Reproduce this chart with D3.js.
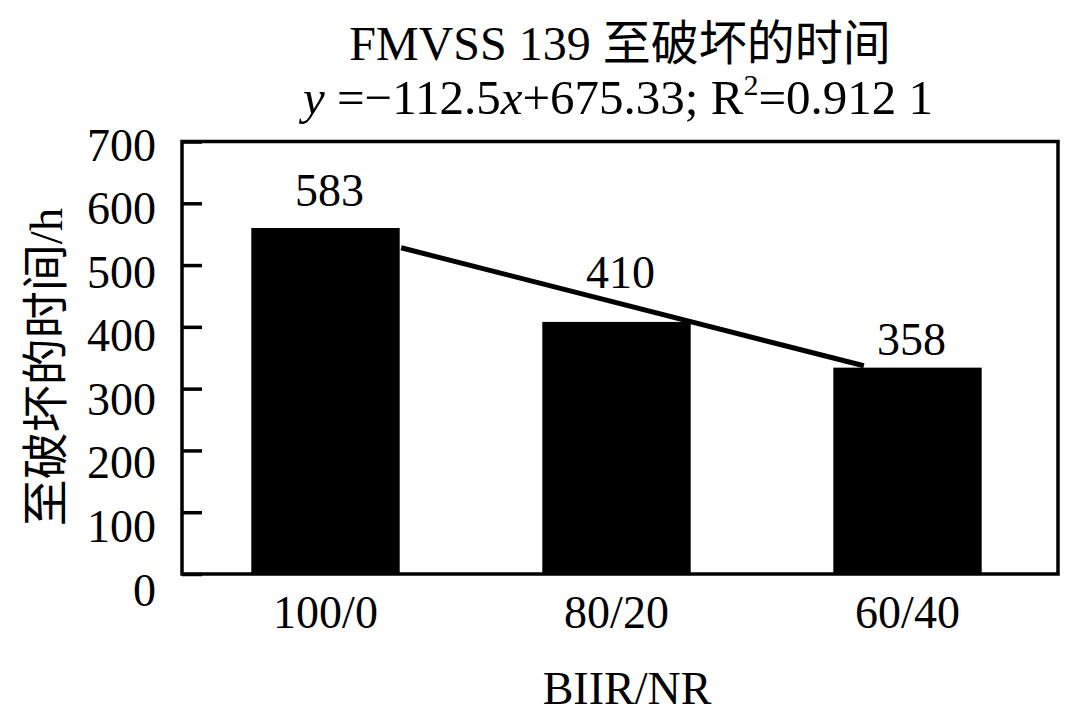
<!DOCTYPE html>
<html>
<head>
<meta charset="utf-8">
<script src="https://cdn.jsdelivr.net/npm/d3@7"></script>
<style>
  html, body { margin: 0; padding: 0; background: #fff; }
  svg { display: block; }
  text { font-family: "Liberation Serif", "Times New Roman", "Noto Sans CJK SC", serif; fill: #000; }
</style>
</head>
<body>
<script>
// ---- data ----
const categories = ["100/0", "80/20", "60/40"];
const barValues = [560, 408, 334];          // drawn bar heights
const barLabels = ["583", "410", "358"];     // printed labels
const trendX = [0.26, 1.85];                 // trend line ends, in category-index units
const trendY = [528, 337];
const yTicks = [0, 100, 200, 300, 400, 500, 600, 700];
const titleText = "FMVSS 139 至破坏的时间";
const yTitle = "至破坏的时间/h";
const xTitle = "BIIR/NR";

const W = 1080, H = 727;
const svg = d3.select("body").append("svg").attr("width", W).attr("height", H);

const frame = { left: 182, right: 1058, top: 141.5, bottom: 574 };

const y = d3.scaleLinear().domain([0, 700]).range([frame.bottom, frame.top]);
const yLab = d3.scaleLinear().domain([0, 700]).range([590, 145]);
const x = d3.scaleBand().domain(categories).range([180, 1053]).paddingInner(0.49).paddingOuter(0.245);
const xi = d3.scaleLinear().domain([0, 2])
  .range([x(categories[0]) + x.bandwidth() / 2, x(categories[2]) + x.bandwidth() / 2]);

// bars
svg.append("g").selectAll("rect").data(barValues).join("rect")
  .attr("x", (d, i) => x(categories[i]))
  .attr("y", d => y(d))
  .attr("width", x.bandwidth())
  .attr("height", d => y(0) - y(d))
  .attr("fill", "#000");

// trend line
svg.append("path")
  .datum(trendX.map((v, i) => [v, trendY[i]]))
  .attr("d", d3.line().x(d => xi(d[0])).y(d => y(d[1])))
  .attr("fill", "none").attr("stroke", "#000").attr("stroke-width", 5);

// frame
svg.append("rect")
  .attr("x", frame.left).attr("y", frame.top)
  .attr("width", frame.right - frame.left).attr("height", frame.bottom - frame.top)
  .attr("fill", "none").attr("stroke", "#000").attr("stroke-width", 3.5);

// y ticks (inward)
const yAxis = d3.axisRight(y).tickValues(yTicks).tickSize(20).tickFormat("");
const gy = svg.append("g").attr("transform", `translate(${frame.left},0)`).call(yAxis);
gy.select(".domain").remove();
gy.selectAll("line").attr("stroke", "#000").attr("stroke-width", 3.5);

// y tick labels
svg.append("g").selectAll("text").data(yTicks).join("text")
  .attr("x", 156).attr("y", d => yLab(d))
  .attr("text-anchor", "end").attr("dominant-baseline", "central")
  .attr("font-size", 46).text(d => d);

// x tick labels
svg.append("g").selectAll("text").data(categories).join("text")
  .attr("x", d => x(d) + x.bandwidth() / 2).attr("y", 628)
  .attr("text-anchor", "middle").attr("font-size", 46).text(d => d);

// bar value labels
const labelDy = [22, 34, 13];
svg.append("g").selectAll("text").data(barLabels).join("text")
  .attr("x", (d, i) => x(categories[i]) + x.bandwidth() / 2 + 4)
  .attr("y", (d, i) => y(barValues[i]) - labelDy[i])
  .attr("text-anchor", "middle").attr("font-size", 46).text(d => d);

// titles
svg.append("text").attr("x", 620).attr("y", 60).attr("text-anchor", "middle")
  .attr("font-size", 48).text(titleText);

const t2 = svg.append("text").attr("x", 618).attr("y", 114).attr("text-anchor", "middle").attr("font-size", 49);
t2.append("tspan").attr("font-style", "italic").text("y");
t2.append("tspan").text(" =\u2212112.5");
t2.append("tspan").attr("font-style", "italic").text("x");
t2.append("tspan").text("+675.33; R");
t2.append("tspan").attr("font-size", 30).attr("dy", -19).text("2");
t2.append("tspan").attr("dy", 19).text("=0.912 1");

svg.append("text").attr("x", 627).attr("y", 704).attr("text-anchor", "middle")
  .attr("font-size", 46).text(xTitle);

svg.append("text").attr("transform", "translate(62,367) rotate(-90)")
  .attr("text-anchor", "middle").attr("font-size", 47).text(yTitle);
</script>
</body>
</html>
